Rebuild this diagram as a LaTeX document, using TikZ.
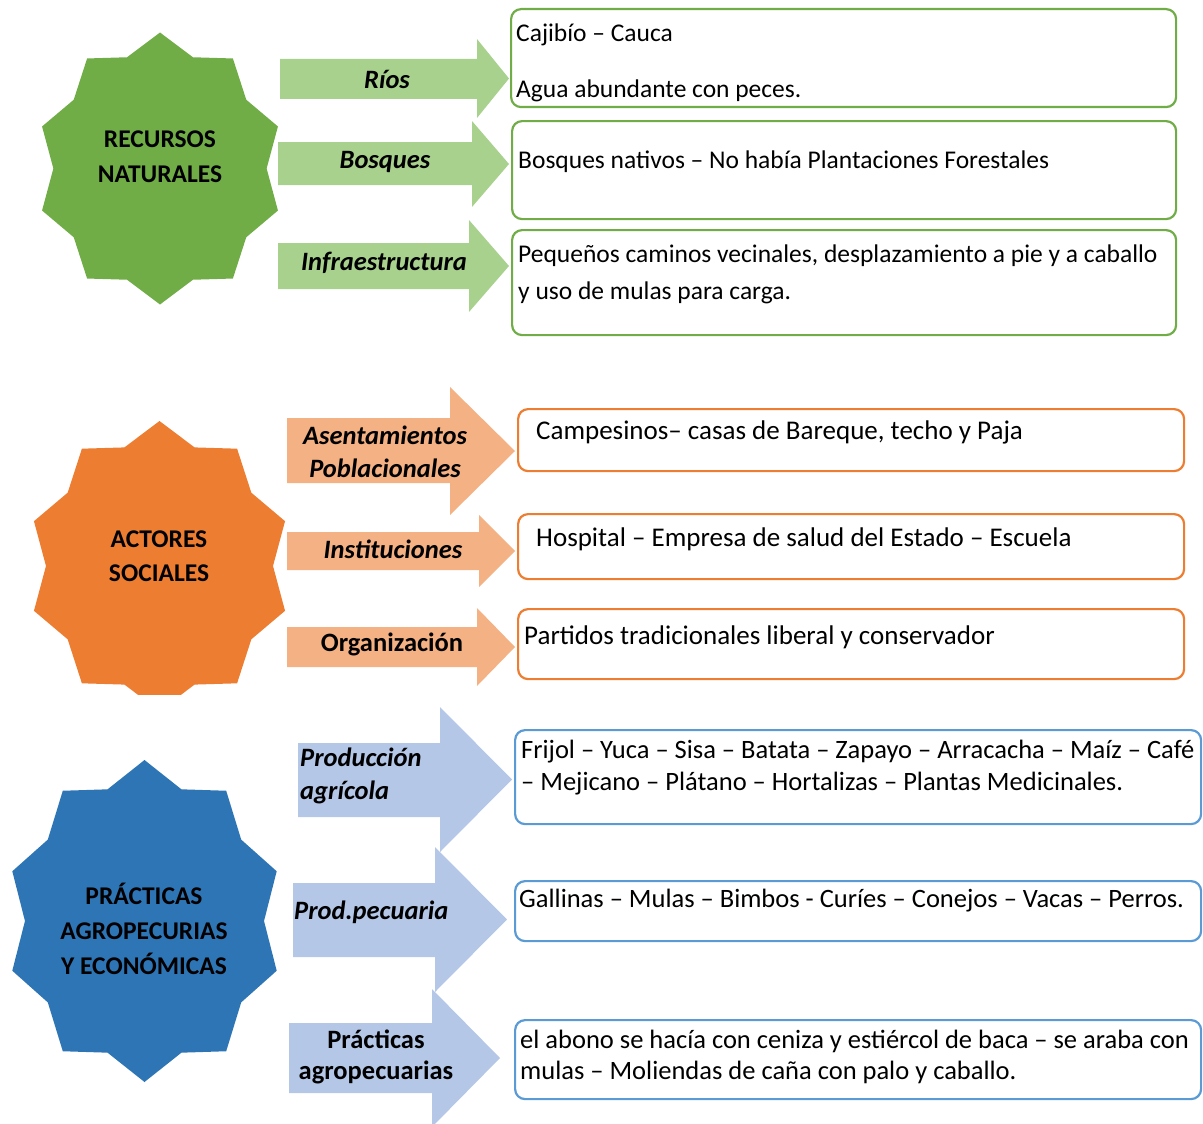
\documentclass[tikz,border=0pt]{standalone}
\usepackage{fontspec}
\setmainfont{Carlito}
\usetikzlibrary{positioning}
\definecolor{verde}{HTML}{70AD47}
\definecolor{verdeclaro}{HTML}{A9D18E}
\definecolor{naranja}{HTML}{ED7D31}
\definecolor{naranjaclaro}{HTML}{F4B183}
\definecolor{azul}{HTML}{2E75B6}
\definecolor{azulclaro}{HTML}{B4C7E7}
\definecolor{azulborde}{HTML}{5B9BD5}
\tikzset{
  caja/.style={rectangle, rounded corners=10pt, line width=2.2pt, fill=white, anchor=north west, inner sep=0pt},
  cajaverde/.style={caja, draw=verde},
  cajanaranja/.style={caja, draw=naranja},
  cajaazul/.style={caja, draw=azulborde},
  textoverde/.style={inner sep=0pt, anchor=west, align=left, font=\fontsize{25.5}{37}\selectfont},
  textonaranja/.style={inner sep=0pt, anchor=west, align=left, font=\fontsize{27}{33}\selectfont},
  textoazul/.style={inner sep=0pt, anchor=west, align=left, font=\fontsize{26.5}{31.5}\selectfont},
  etiqueta/.style={inner sep=0pt, align=center, font=\fontsize{26.5}{33}\selectfont\bfseries\itshape},
  etiquetarecta/.style={inner sep=0pt, align=center, font=\fontsize{26.5}{31}\selectfont\bfseries},
  titulo/.style={inner sep=0pt, align=center, font=\fontsize{25.5}{35}\selectfont\bfseries},
}
% estrella de 10 puntas: centro x, centro y, radio x, radio y, color
\newcommand{\estrella}[5]{%
  \fill[#5] (#1,{#2-#4}) \foreach \k in {1,...,19} {
    -- ({#1+#3*(1-0.14*mod(\k,2))*cos(90+18*\k)}, {#2-#4*(1-0.14*mod(\k,2))*sin(90+18*\k)})
  } -- cycle;}
% flecha gruesa: x cola, x base punta, x punta, y1 y2 cuerpo, y1 y2 punta, color
\newcommand{\flecha}[8]{%
  \fill[#8] (#1,#4) -- (#2,#4) -- (#2,#6) -- (#3,{(#6+#7)/2}) -- (#2,#7) -- (#2,#5) -- (#1,#5) -- cycle;}
\begin{document}
\begin{tikzpicture}[x=1pt, y=-1pt]
  \useasboundingbox (0,0) rectangle (1203,1124);

  % recursos naturales
  \estrella{160}{168.5}{124}{136}{verde}
  \node[titulo] (recursos) at (160,157) {RECURSOS\\NATURALES};
  \flecha{280}{477}{509}{59}{99}{39}{118}{verdeclaro}
  \flecha{278}{472}{509}{142}{185}{121}{207}{verdeclaro}
  \flecha{278}{469}{509}{243}{289}{220}{312}{verdeclaro}
  \node[etiqueta] (rios) at (387,79) {Ríos};
  \node[etiqueta] (bosques) at (385,162) {Bosques};
  \node[etiqueta] (infra) at (384,263) {Infraestructura};
  \node[cajaverde, minimum width=665pt, minimum height=98pt] (rios-caja) at (510,8) {};
  \node[cajaverde, minimum width=664pt, minimum height=98pt] (bosques-caja) at (511,120) {};
  \node[cajaverde, minimum width=664pt, minimum height=105pt] (infra-caja) at (511,229) {};
  \node[textoverde] (cajibio) at (516,63) {Cajibío – Cauca\\[19pt]Agua abundante con peces.};
  \node[textoverde] (nativos) at (518,162) {Bosques nativos – No había Plantaciones Forestales};
  \node[textoverde] (caminos) at (518,274.5) {Pequeños caminos vecinales, desplazamiento a pie y a caballo\\y uso de mulas para carga.};

  % actores sociales
  \begin{scope}
    \clip (0,380) rectangle (300,694);
    \estrella{159.5}{566}{132}{145}{naranja}
  \end{scope}
  \node[titulo, font=\fontsize{25.5}{34}\selectfont\bfseries] (actores) at (159,556) {ACTORES\\SOCIALES};
  \flecha{287}{450}{515}{418}{483}{387}{515}{naranjaclaro}
  \flecha{287}{479}{515}{532}{570}{515}{587}{naranjaclaro}
  \flecha{287}{477}{515}{627}{667}{608}{686}{naranjaclaro}
  \node[etiqueta] (asent) at (385,452) {Asentamientos\\Poblacionales};
  \node[etiqueta] (inst) at (393,549) {Instituciones};
  \node[etiquetarecta] (org) at (392,644) {Organización};
  \node[cajanaranja, minimum width=666pt, minimum height=62pt] (asent-caja) at (517,408) {};
  \node[cajanaranja, minimum width=666pt, minimum height=65pt] (inst-caja) at (517,513) {};
  \node[cajanaranja, minimum width=666pt, minimum height=70pt] (org-caja) at (517,608) {};
  \node[textonaranja] (campesinos) at (536,432) {Campesinos– casas de Bareque, techo y Paja};
  \node[textonaranja] (hospital) at (536,539) {Hospital – Empresa de salud del Estado – Escuela};
  \node[textonaranja] (partidos) at (524,637) {Partidos tradicionales liberal y conservador};

  % practicas agropecuarias
  \estrella{144.5}{921}{139}{161}{azul}
  \node[titulo] (practicas) at (144,929) {PRÁCTICAS\\AGROPECURIAS\\Y ECONÓMICAS};
  \flecha{298}{440}{512}{743}{817}{707}{852}{azulclaro}
  \flecha{293}{435}{507}{883}{957}{847}{992}{azulclaro}
  \flecha{289}{432}{500}{1023}{1093}{989}{1127}{azulclaro}
  \node[etiqueta, align=left, anchor=west] (agric) at (300,776) {Producción\\agrícola};
  \node[etiqueta, anchor=west] (pecu) at (294,912) {Prod.pecuaria};
  \node[etiquetarecta] (pract) at (376,1057) {Prácticas\\agropecuarias};
  \node[cajaazul, minimum width=686pt, minimum height=94pt] (agric-caja) at (514,729) {};
  \node[cajaazul, minimum width=686pt, minimum height=60pt] (pecu-caja) at (514,880) {};
  \node[cajaazul, minimum width=686pt, minimum height=79pt] (pract-caja) at (514,1019) {};
  \node[textoazul] (frijol) at (521,767.5) {Frijol – Yuca – Sisa – Batata – Zapayo – Arracacha – Maíz – Café\\– Mejicano – Plátano – Hortalizas – Plantas Medicinales.};
  \node[textoazul] (gallinas) at (519,901) {Gallinas – Mulas – Bimbos - Curíes – Conejos – Vacas – Perros.};
  \node[textoazul] (abono) at (520,1057) {el abono se hacía con ceniza y estiércol de baca – se araba con\\mulas – Moliendas de caña con palo y caballo.};
\end{tikzpicture}
\end{document}
